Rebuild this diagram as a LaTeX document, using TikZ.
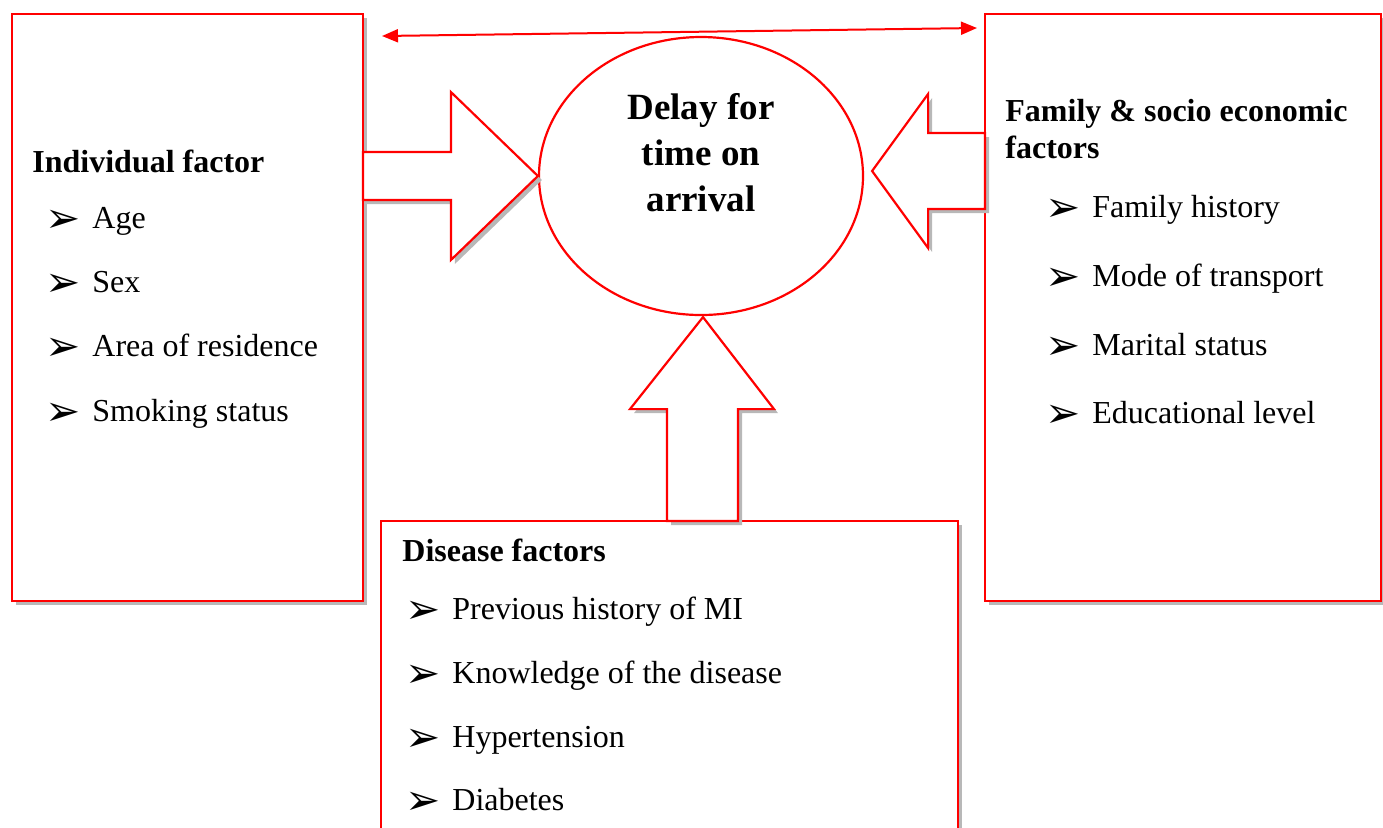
\documentclass[tikz,border=0pt]{standalone}
\usepackage{fontspec}
\setmainfont{Liberation Serif}
\newfontfamily\symfont{DejaVu Sans}
\usepackage{tikz}
\usetikzlibrary{arrows.meta, positioning, calc, shapes.geometric, shadows}

\newcommand{\itemsize}{\fontsize{16}{18.5}\selectfont}
\newcommand{\bul}{\makebox[23.5pt][l]{\raisebox{-2pt}{\symfont\fontsize{21}{21}\selectfont ➢}}}

\begin{document}
\begin{tikzpicture}[
    x=0.5pt, y=-0.5pt,
    >={Triangle[length=8pt, width=6.5pt]},
    redline/.style={draw=red, line width=1.1pt},
    greyshadow/.style={drop shadow={shadow xshift=2pt, shadow yshift=-2pt, fill=black!28, opacity=1}},
    factorbox/.style={redline, fill=white, inner sep=0pt, outer sep=0pt, greyshadow},
    blockarrow/.style={redline, fill=white, greyshadow},
    item/.style={anchor=base west, inner sep=0pt, font=\itemsize},
    head/.style={item, font=\itemsize\bfseries}
]
\useasboundingbox (0,0) rectangle (1383,827);
\clip (0,0) rectangle (1383,827);

% factor boxes
\node[factorbox, minimum width=175.5pt, minimum height=293.5pt] (indiv) at (187.5,307.5) {};
\node[factorbox, minimum width=198pt, minimum height=293.5pt] (fam) at (1183,307.5) {};
\node[factorbox, minimum width=288.5pt, minimum height=174.5pt] (dis) at (669.5,695.5) {};

% outcome
\node[redline, ellipse, minimum width=162pt, minimum height=139pt, inner sep=0pt] (delay) at (701,176) {};
\node[align=center, font=\fontsize{18.5}{23}\selectfont\bfseries] (delaytext) at (701,153) {Delay for\\time on\\arrival};

\coordinate (tipL) at (delay.west);
\coordinate (tipR) at ($(delay.east)+(8,-5)$);
\coordinate (tipB) at ($(delay.south)+(2,1)$);

% block arrows
\draw[blockarrow] ($(indiv.east |- tipL)+(0,-24)$) -- ($(tipL)+(-87,-24)$) -- ($(tipL)+(-87,-84)$)
    -- (tipL) -- ($(tipL)+(-87,84)$) -- ($(tipL)+(-87,24)$) -- ($(indiv.east |- tipL)+(0,24)$) -- cycle;
\draw[blockarrow] ($(fam.west |- tipR)+(0,-38)$) -- ($(tipR)+(56,-38)$) -- ($(tipR)+(56,-77)$)
    -- (tipR) -- ($(tipR)+(56,77)$) -- ($(tipR)+(56,38)$) -- ($(fam.west |- tipR)+(0,38)$) -- cycle;
\draw[blockarrow] ($(tipB |- dis.north)+(-36,0)$) -- ($(tipB)+(-36,92)$) -- ($(tipB)+(-73,92)$)
    -- (tipB) -- ($(tipB)+(71,92)$) -- ($(tipB)+(35,92)$) -- ($(tipB |- dis.north)+(35,0)$) -- cycle;

% link between the two side boxes
\coordinate (linkL) at ($(indiv.north east)+(19,22)$);
\coordinate (linkR) at ($(fam.north west)+(-8,14)$);
\draw[<->, red, line width=1pt] (linkL) -- (linkR);

% individual factor
\node[head] (indivtitle) at (32,172) {Individual factor};
\node[item] (age) at (45,228) {\bul Age};
\node[item] (sex) at (45,292) {\bul Sex};
\node[item] (area) at (45,356) {\bul Area of residence};
\node[item] (smoking) at (45,421) {\bul Smoking status};

% family & socio economic factors
\node[head, align=left] (famtitle) at (1005,158) {Family \& socio economic\\factors};
\node[item] (famhist) at (1045,217) {\bul Family history};
\node[item] (transport) at (1045,286) {\bul Mode of transport};
\node[item] (marital) at (1045,355) {\bul Marital status};
\node[item] (edu) at (1045,423) {\bul Educational level};

% disease factors
\node[head] (distitle) at (402,561) {Disease factors};
\node[item] (prevmi) at (405,619) {\bul Previous history of MI};
\node[item] (knowledge) at (405,683) {\bul Knowledge of the disease};
\node[item] (hyper) at (405,747) {\bul Hypertension};
\node[item] (diabetes) at (405,810) {\bul Diabetes};

\end{tikzpicture}
\end{document}
